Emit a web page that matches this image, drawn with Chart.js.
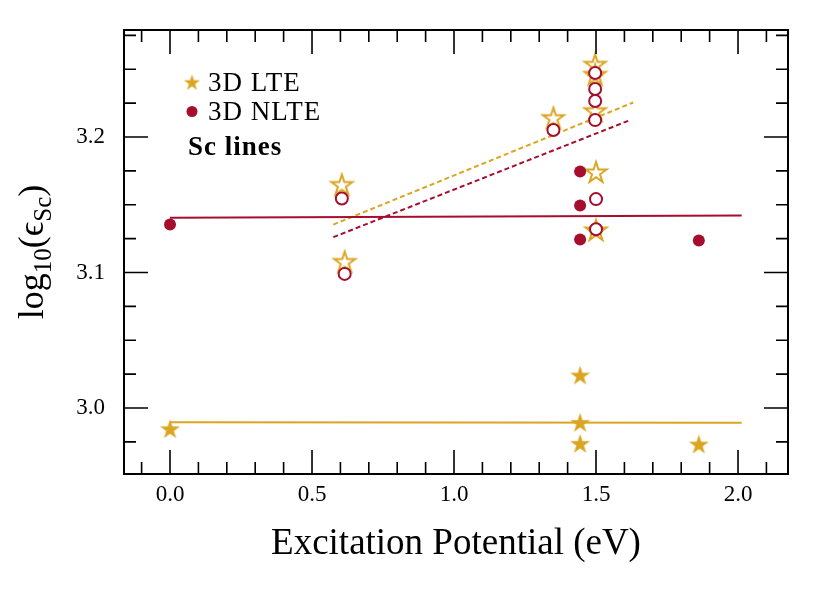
<!DOCTYPE html>
<html>
<head>
<meta charset="utf-8">
<script src="https://cdn.jsdelivr.net/npm/chart.js@4.4.1/dist/chart.umd.min.js"></script>
<style>
    html, body { margin: 0; padding: 0; background: #fff; }
</style>
</head>
<body>
<canvas id="chart" width="830" height="593"></canvas>
<script>
// axis limits and tick labels
const xMin = -0.162, xMax = 2.176;
const yMin = 2.9513, yMax = 3.279;
const xTicks = [0.0, 0.5, 1.0, 1.5, 2.0];
const yTicks = [3.0, 3.1, 3.2];

// 3D LTE, filled stars
const lteFilledX = [0.0, 1.444, 1.444, 1.444, 1.862];
const lteFilledY = [2.984, 3.0236, 2.9887, 2.9732, 2.9727];
// 3D LTE, open stars
const lteOpenX = [0.605, 0.615, 1.350, 1.497, 1.497, 1.497, 1.500, 1.500];
const lteOpenY = [3.1642, 3.1074, 3.2135, 3.2529, 3.2455, 3.2187, 3.1735, 3.1306];
// 3D NLTE, filled circles
const nlteFilledX = [0.0, 1.444, 1.444, 1.444, 1.862];
const nlteFilledY = [3.1354, 3.1745, 3.1494, 3.1244, 3.1236];
// 3D NLTE, open circles
const nlteOpenX = [0.605, 0.615, 1.350, 1.497, 1.497, 1.497, 1.497, 1.500, 1.500];
const nlteOpenY = [3.1546, 3.0990, 3.2052, 3.2472, 3.2354, 3.2266, 3.2125, 3.1542, 3.1319];

// fitted trends (end points)
const lteFlatX = [0.0, 2.013];
const lteFlatY = [2.9895, 2.9891];
const nlteFlatX = [0.0, 2.013];
const nlteFlatY = [3.1404, 3.1421];
const lteSlopeX = [0.575, 1.631];
const lteSlopeY = [3.1354, 3.2255];
const nlteSlopeX = [0.575, 1.620];
const nlteSlopeY = [3.1261, 3.2125];

const GOLD = '#daa520';
const RED = '#a50f2d';
const SERIF = "'Liberation Serif', 'DejaVu Serif', serif";

function pts(xs, ys) {
    return xs.map((x, i) => ({ x, y: ys[i] }));
}

function starImage(r, fill, stroke, lw) {
    const pad = Math.ceil(lw || 0) + 1;
    const size = Math.ceil(2 * r + 2 * pad);
    const c = document.createElement('canvas');
    c.width = c.height = size;
    const ctx = c.getContext('2d');
    const cx = size / 2, cy = size / 2;
    ctx.beginPath();
    for (let i = 0; i < 10; i++) {
        const rad = i % 2 === 0 ? r : r * 0.382;
        const a = -Math.PI / 2 + i * Math.PI / 5;
        ctx.lineTo(cx + rad * Math.cos(a), cy + rad * Math.sin(a));
    }
    ctx.closePath();
    ctx.fillStyle = fill;
    ctx.fill();
    if (stroke) {
        ctx.lineWidth = lw;
        ctx.strokeStyle = stroke;
        ctx.stroke();
    }
    return c;
}

const starFilled = starImage(10.5, GOLD);
const starOpen = starImage(11, '#fff', GOLD, 2);
const starLegend = starImage(8.5, GOLD);

function lineSet(xs, ys, color, dash, order) {
    return {
        type: 'line',
        data: pts(xs, ys),
        borderColor: color,
        borderWidth: 2,
        borderDash: dash,
        pointRadius: 0,
        fill: false,
        showLine: true,
        order,
    };
}

// frame, inward ticks, y title and legend
const decor = {
    id: 'decor',
    afterDatasetsDraw(chart) {
        const { ctx, chartArea: a, scales: { x, y } } = chart;
        ctx.save();
        ctx.strokeStyle = '#000';
        ctx.lineWidth = 1.6;
        ctx.beginPath();
        for (let k = -2; k <= 22; k++) {
            const px = x.getPixelForValue(k / 10);
            if (px < a.left + 1 || px > a.right - 1) continue;
            const len = k % 5 === 0 ? 24 : 12;
            ctx.moveTo(px, a.bottom); ctx.lineTo(px, a.bottom - len);
            ctx.moveTo(px, a.top); ctx.lineTo(px, a.top + len);
        }
        for (let k = 116; k <= 132; k++) {
            const py = y.getPixelForValue(k * 0.025);
            if (py < a.top + 1 || py > a.bottom - 1) continue;
            const len = k % 4 === 0 ? 24 : 12;
            ctx.moveTo(a.left, py); ctx.lineTo(a.left + len, py);
            ctx.moveTo(a.right, py); ctx.lineTo(a.right - len, py);
        }
        ctx.stroke();
        ctx.lineWidth = 2;
        ctx.strokeRect(a.left, a.top, a.right - a.left, a.bottom - a.top);

        // y axis title with subscripts
        const parts = [
            { t: 'log', s: 36, dy: 0 },
            { t: '10', s: 25, dy: 8 },
            { t: '(', s: 36, dy: 0 },
            { t: '\u03F5', s: 36, dy: 0 },
            { t: 'Sc', s: 25, dy: 8 },
            { t: ')', s: 36, dy: 0 },
        ];
        ctx.fillStyle = '#000';
        ctx.textBaseline = 'alphabetic';
        ctx.textAlign = 'left';
        let total = 0;
        parts.forEach(p => {
            ctx.font = `${p.s}px ${SERIF}`;
            p.w = ctx.measureText(p.t).width;
            total += p.w;
        });
        ctx.translate(43, (a.top + a.bottom) / 2);
        ctx.rotate(-Math.PI / 2);
        let cx = -total / 2;
        parts.forEach(p => {
            ctx.font = `${p.s}px ${SERIF}`;
            ctx.fillText(p.t, cx, p.dy);
            cx += p.w;
        });
        ctx.setTransform(1, 0, 0, 1, 0, 0);

        // legend
        ctx.drawImage(starLegend, 192 - starLegend.width / 2, 83 - starLegend.height / 2);
        ctx.beginPath();
        ctx.arc(192, 111.5, 5.5, 0, Math.PI * 2);
        ctx.fillStyle = RED;
        ctx.fill();
        ctx.fillStyle = '#000';
        ctx.letterSpacing = '1px';
        ctx.font = `27px ${SERIF}`;
        ctx.fillText('3D LTE', 208, 91);
        ctx.fillText('3D NLTE', 208, 120);
        ctx.font = `bold 27px ${SERIF}`;
        ctx.fillText('Sc lines', 188, 155);
        ctx.restore();
    },
};

new Chart(document.getElementById('chart').getContext('2d'), {
    type: 'scatter',
    data: {
        datasets: [
            {
                label: '3D NLTE',
                data: pts(nlteOpenX, nlteOpenY),
                pointStyle: 'circle',
                pointRadius: 6,
                pointBorderWidth: 2,
                pointBackgroundColor: '#fff',
                pointBorderColor: RED,
                order: 1,
            },
            {
                label: '3D NLTE filled',
                data: pts(nlteFilledX, nlteFilledY),
                pointStyle: 'circle',
                pointRadius: 6,
                pointBorderWidth: 0,
                pointBackgroundColor: RED,
                pointBorderColor: RED,
                order: 2,
            },
            {
                label: '3D LTE open',
                data: pts(lteOpenX, lteOpenY),
                pointStyle: starOpen,
                pointRadius: 11,
                order: 3,
            },
            {
                label: '3D LTE',
                data: pts(lteFilledX, lteFilledY),
                pointStyle: starFilled,
                pointRadius: 10,
                order: 4,
            },
            lineSet(lteFlatX, lteFlatY, GOLD, [], 5),
            lineSet(nlteFlatX, nlteFlatY, RED, [], 5),
            lineSet(lteSlopeX, lteSlopeY, GOLD, [5, 3], 5),
            lineSet(nlteSlopeX, nlteSlopeY, RED, [5, 3], 5),
        ],
    },
    options: {
        responsive: false,
        animation: false,
        events: [],
        layout: { padding: { top: 30, right: 42, left: 0, bottom: 0 } },
        plugins: { legend: { display: false }, tooltip: { enabled: false } },
        scales: {
            x: {
                type: 'linear',
                min: xMin,
                max: xMax,
                grid: { display: false, drawTicks: false },
                border: { display: false },
                afterFit(s) { s.height = 119; s.paddingLeft = 0; s.paddingRight = 0; },
                afterBuildTicks(s) { s.ticks = xTicks.map(v => ({ value: v })); },
                ticks: {
                    padding: 7,
                    color: '#000',
                    font: { family: SERIF, size: 23 },
                    callback: v => Number(v).toFixed(1),
                },
                title: {
                    display: true,
                    text: 'Excitation Potential (eV)',
                    color: '#000',
                    font: { family: SERIF, size: 37 },
                    padding: { top: 0, bottom: 27 },
                },
            },
            y: {
                type: 'linear',
                min: yMin,
                max: yMax,
                grid: { display: false, drawTicks: false },
                border: { display: false },
                afterFit(s) { s.width = 124; s.paddingTop = 0; s.paddingBottom = 0; },
                afterBuildTicks(s) { s.ticks = yTicks.map(v => ({ value: v })); },
                ticks: {
                    padding: 19,
                    color: '#000',
                    font: { family: SERIF, size: 23 },
                    callback: v => Number(v).toFixed(1),
                },
            },
        },
    },
    plugins: [decor],
});
</script>
</body>
</html>
